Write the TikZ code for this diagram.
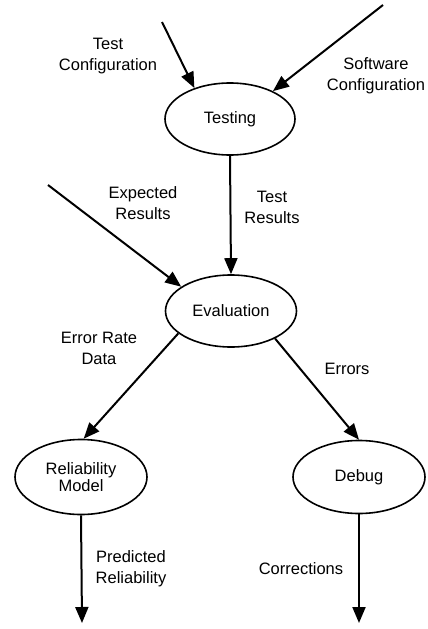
\documentclass[tikz,border=0pt]{standalone}
\usepackage{fontspec}
\setmainfont{Liberation Sans}
\usetikzlibrary{arrows.meta,shapes.geometric}

\begin{document}
\begin{tikzpicture}[x=1pt,y=-1pt,
  proc/.style={ellipse,draw,line width=1.6pt,inner sep=0pt,align=center,
    font=\fontsize{16.5}{19}\selectfont},
  flow/.style={line width=2pt,-{Triangle[length=16pt,width=13pt]}},
  lbl/.style={align=center,font=\fontsize{16.5}{21}\selectfont,inner sep=0pt}]
  \useasboundingbox (0,0) rectangle (428,629);

  % processes
  \node[proc,minimum width=130pt,minimum height=72pt] (testing) at (230,119) {Testing};
  \node[proc,minimum width=131pt,minimum height=72pt] (eval) at (231,311) {Evaluation};
  \node[proc,minimum width=132pt,minimum height=75pt] (relmod) at (81,477) {Reliability\\[-2pt]Model};
  \node[proc,minimum width=132pt,minimum height=73pt] (debug) at (359,477) {Debug};

  % free ends of the flows
  \coordinate (tcin) at (162,22);
  \coordinate (scin) at (383,5);
  \coordinate (erin) at (48,185);
  \coordinate (relout) at (82,623);
  \coordinate (dbgout) at (359,623);

  % flows
  \draw[flow] (tcin) -- (testing.139);
  \draw[flow] (scin) -- (testing.33);
  \draw[flow] (testing.south) -- (eval.north);
  \draw[flow] (erin) -- (eval.154);
  \draw[flow] (eval.203) -- (relmod.86);
  \draw[flow] (eval.328) -- (debug.90);
  \draw[flow] (relmod.south) -- (relout);
  \draw[flow] (debug.south) -- (dbgout);

  % flow labels
  \node[lbl] (ltc) at (108,56) {Test\\Configuration};
  \node[lbl] (lsc) at (376,76) {Software\\Configuration};
  \node[lbl] (ltr) at (272,207) {Test\\Results};
  \node[lbl] (ler) at (143,203) {Expected\\Results};
  \node[lbl] (lerd) at (99,348) {Error Rate\\Data};
  \node[lbl] (lerr) at (347,369) {Errors};
  \node[lbl] (lpr) at (131,569) {Predicted\\Reliability};
  \node[lbl] (lcor) at (301,569) {Corrections};
\end{tikzpicture}
\end{document}
